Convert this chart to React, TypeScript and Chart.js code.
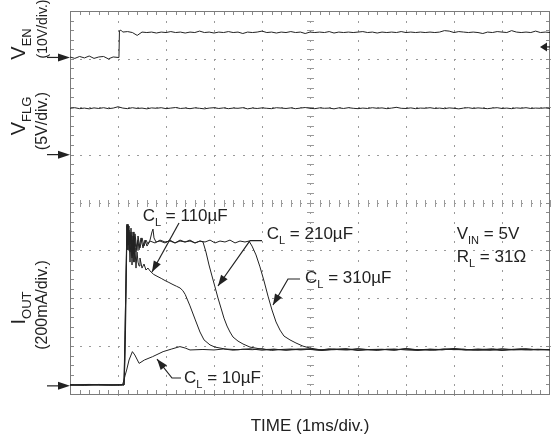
import React, { useEffect, useRef } from "react";
import { Chart, registerables } from "chart.js";

Chart.register(...registerables);

// ---- Channel set-up (ground marker in divisions, units per division) ----
const EN_GND_DIV = 7.03;
const EN_V_PER_DIV = 10;
const EN_TRIGGER_V = 2.2;
const FLG_GND_DIV = 5.0;
const FLG_V_PER_DIV = 5;
const IOUT_GND_DIV = 0.17;
const IOUT_MA_PER_DIV = 200;

// ---- V_EN (V) ----
const venLowStart = 0;
const venLowStep = 0.1;
const venLowVolts = [0.1, -0.2, 0.2, -0.1, 0.3, -0.2, 0.1, 0.2, -0.3, 0.1, 0.0];
const venEdgeTime = [1.02, 1.03, 1.06, 1.1];
const venEdgeVolts = [0.1, 5.6, 5.7, 5.3];
const venHighStart = 1.2;
const venHighStep = 0.1;
const venHighVolts = [
  5.4, 5.2, 4.6, 5.3, 5.2, 5.3, 5.1, 5.3, 5.2, 5.4,
  5.2, 5.3, 5.1, 5.3, 5.2, 5.5, 5.2, 5.3, 5.1, 5.3,
  5.2, 5.4, 5.2, 5.3, 5.0, 5.3, 5.2, 5.3, 5.5, 5.2,
  5.3, 5.1, 5.3, 5.2, 5.4, 5.2, 5.3, 5.0, 5.3, 5.2,
  5.3, 5.2, 5.4, 5.1, 5.3, 5.2, 5.3, 5.2, 5.3, 5.4,
  5.2, 5.3, 5.1, 5.3, 5.2, 5.3, 5.2, 5.4, 5.2, 5.3,
  5.2, 5.3, 5.2, 5.3, 5.2, 5.3, 5.6, 5.5, 5.2, 5.4,
  5.3, 5.2, 5.3, 5.2, 5.0, 5.3, 5.2, 5.4, 5.3, 5.2,
  5.6, 5.3, 5.2, 5.3, 5.2, 5.5, 5.2, 5.3, 5.2,
];

// ---- V_FLG (V), sampled every 0.1 ms ----
const vflgStart = 0;
const vflgStep = 0.1;
const vflgVolts = [
  4.84, 4.9, 4.8, 4.86, 4.78, 4.88, 4.82, 4.9, 4.8, 4.86,
  5.0, 4.86, 4.8, 4.9, 4.82, 4.86, 4.78, 4.88, 4.84, 4.9,
  4.8, 4.86, 4.92, 4.82, 4.86, 4.8, 4.88, 4.84, 4.78, 4.86,
  4.9, 4.82, 4.88, 4.8, 4.86, 4.84, 4.9, 4.78, 4.86, 4.82,
  4.88, 4.84, 4.8, 4.9, 4.86, 4.82, 4.88, 4.8, 4.86, 4.92,
  4.84, 4.8, 4.88, 4.84, 4.86, 4.78, 4.88, 4.82, 4.9, 4.84,
  4.8, 4.86, 4.82, 4.9, 4.84, 4.88, 4.8, 4.86, 4.94, 4.84,
  4.82, 4.88, 4.8, 4.86, 4.84, 4.9, 4.82, 4.86, 4.8, 4.88,
  4.84, 4.78, 4.86, 4.9, 4.82, 4.88, 4.84, 4.8, 4.86, 4.9,
  4.82, 4.86, 4.8, 4.88, 4.84, 4.9, 4.82, 4.86, 4.84, 4.88, 4.82,
];

// ---- I_OUT (mA) for each load capacitance ----
const cl10Time = [0, 0.3, 0.6, 0.9, 1.08, 1.1, 1.125, 1.15, 1.18, 1.23, 1.3, 1.35, 1.44, 1.55, 1.72, 1.94, 2.12, 2.29, 2.4, 2.5, 2.77];
const cl10mA = [4, 2, 6, 3, 4, 8, 25, 45, 66, 108, 143, 129, 94, 108, 122, 143, 154, 164, 158, 150, 152];
const cl10TailStart = 3.0;
const cl10TailStep = 0.2;
const cl10TailmA = [150, 154, 149, 153, 151, 155, 148, 152, 154, 150, 153, 149, 155, 151, 150, 154, 152, 148, 153, 151, 155, 150, 152, 149, 154, 151, 153, 150, 152, 155, 149, 151, 154, 150, 152, 151];

const cl110Time = [0, 0.4, 0.8, 1.08, 1.125, 1.146, 1.167, 1.1875, 1.208, 1.229, 1.25, 1.271, 1.292, 1.3125, 1.333, 1.354, 1.375, 1.396, 1.417, 1.4375, 1.458, 1.5, 1.542, 1.583, 1.625, 1.667, 1.74, 1.8125, 1.9, 1.979, 2.06, 2.146, 2.22, 2.292, 2.35, 2.4, 2.5, 2.604, 2.708, 2.792, 2.917, 3.021, 3.229];
const cl110mA = [4, 6, 3, 4, 4, 108, 359, 672, 588, 643, 517, 630, 505, 609, 517, 576, 492, 559, 517, 501, 534, 492, 509, 484, 492, 480, 466, 458, 449, 440, 432, 423, 416, 409, 398, 382, 334, 279, 225, 192, 171, 162, 154];
const cl110TailStart = 3.5;
const cl110TailStep = 0.25;
const cl110TailmA = [151, 155, 149, 153, 150, 154, 152, 148, 153, 151, 155, 150, 152, 149, 154, 151, 153, 150, 156, 152, 149, 151, 154, 150, 153, 152, 150];

const cl210Time = [0, 0.5, 1.0, 1.125, 1.146, 1.167, 1.1875, 1.208, 1.229, 1.25, 1.271, 1.292, 1.3125, 1.333, 1.354, 1.375, 1.417, 1.4375, 1.479, 1.521, 1.5625, 1.604, 1.667, 1.771, 1.875, 1.979, 2.083, 2.1875, 2.292, 2.396, 2.5, 2.604, 2.708, 2.771, 2.833, 2.896, 2.958, 3.021, 3.083, 3.146, 3.208, 3.271, 3.333, 3.396, 3.5, 3.604, 3.75, 3.917, 4.0625];
const cl210mA = [3, 5, 4, 4, 233, 442, 668, 568, 651, 593, 643, 534, 626, 551, 618, 559, 609, 568, 618, 576, 609, 584, 605, 597, 609, 601, 605, 597, 609, 601, 605, 597, 605, 601, 559, 505, 459, 413, 367, 325, 283, 250, 225, 204, 187, 175, 162, 156, 152];
const cl210TailStart = 4.25;
const cl210TailStep = 0.25;
const cl210TailmA = [153, 149, 152, 155, 150, 151, 154, 148, 152, 153, 150, 155, 151, 149, 153, 152, 150, 154, 151, 148, 153, 155, 150, 152];

const cl310Time = [0, 0.6, 1.1, 1.125, 1.146, 1.167, 1.1875, 1.208, 1.229, 1.25, 1.271, 1.292, 1.3125, 1.333, 1.354, 1.396, 1.417, 1.458, 1.5, 1.542, 1.583, 1.625, 1.667, 1.708, 1.729, 1.75, 1.792, 1.875, 1.979, 2.083, 2.1875, 2.292, 2.396, 2.5, 2.604, 2.708, 2.813, 2.917, 3.021, 3.125, 3.229, 3.333, 3.438, 3.542, 3.646, 3.729, 3.792, 3.875, 3.958, 4.042, 4.125, 4.208, 4.292, 4.375, 4.458, 4.583, 4.708, 4.854, 5.0, 5.104];
const cl310mA = [4, 3, 5, 4, 192, 484, 676, 618, 668, 559, 659, 543, 643, 568, 635, 568, 626, 576, 618, 584, 609, 593, 609, 643, 655, 618, 601, 605, 597, 609, 597, 605, 601, 609, 597, 605, 601, 609, 597, 605, 601, 609, 597, 605, 601, 605, 584, 547, 497, 438, 375, 317, 267, 233, 208, 192, 179, 166, 158, 154];
const cl310TailStart = 5.25;
const cl310TailStep = 0.25;
const cl310TailmA = [150, 153, 155, 149, 152, 151, 154, 150, 148, 153, 152, 155, 150, 151, 149, 154, 152, 150, 153, 151];

// ---- Text ----
const xAxisTitle = "TIME (1ms/div.)";
const channelTitles = [
  { name: "V", sub: "EN", scale: "(10V/div.)", gnd: EN_GND_DIV },
  { name: "V", sub: "FLG", scale: "(5V/div.)", gnd: FLG_GND_DIV },
  { name: "I", sub: "OUT", scale: "(200mA/div.)", gnd: IOUT_GND_DIV },
];
// vertical centre (px) of the two rotated lines of each channel title, and size of 2nd line
const channelTitleLayout = [
  { c1: 44, c2: 29, size2: 14 },
  { c1: 116, c2: 121, size2: 16 },
  { c1: 308, c2: 305, size2: 16 },
];

type Run = { text: string; sub?: boolean };
const annotationTexts: { runs: Run[]; t: number; d: number }[] = [
  { runs: [{ text: "C" }, { text: "L", sub: true }, { text: " = 110µF" }], t: 1.514, d: 3.624 },
  { runs: [{ text: "C" }, { text: "L", sub: true }, { text: " = 210µF" }], t: 4.098, d: 3.238 },
  { runs: [{ text: "C" }, { text: "L", sub: true }, { text: " = 310µF" }], t: 4.896, d: 2.319 },
  { runs: [{ text: "C" }, { text: "L", sub: true }, { text: " = 10µF" }], t: 2.375, d: 0.236 },
  { runs: [{ text: "V" }, { text: "IN", sub: true }, { text: " = 5V" }], t: 8.056, d: 3.231 },
  { runs: [{ text: "R" }, { text: "L", sub: true }, { text: " = 31Ω" }], t: 8.056, d: 2.763 },
];
// leader lines (time, div); last point is the arrow tip
const leaderLines: [number, number][][] = [
  [[2.271, 3.572], [1.708, 2.548]],
  [[4.0, 3.202], [3.75, 3.202], [3.083, 2.256]],
  [[4.792, 2.402], [4.542, 2.402], [4.229, 1.859]],
  [[2.3125, 0.334], [2.125, 0.334], [1.8125, 0.731]],
];

const FONT = '"Liberation Sans", Arial, Helvetica, sans-serif';
const font = (s: number) => `${s}px ${FONT}`;
const INK = "#222222";
const GRID = "#9a9a9a";

function uniform(start: number, step: number, vals: number[]) {
  return vals.map((v, i) => ({ t: start + i * step, v }));
}

function toPoints(samples: { t: number; v: number }[], gnd: number, perDiv: number) {
  return samples.map((s) => ({ x: s.t, y: gnd + s.v / perDiv }));
}

function pairs(ts: number[], vs: number[]) {
  return ts.map((t, i) => ({ t, v: vs[i] }));
}

function drawRuns(ctx: CanvasRenderingContext2D, runs: Run[], x: number, y: number, size: number, center = false) {
  const subSize = size * 0.65;
  const widths = runs.map((r) => {
    ctx.font = font(r.sub ? subSize : size);
    return ctx.measureText(r.text).width;
  });
  const total = widths.reduce((a, b) => a + b, 0);
  let cx = center ? x - total / 2 : x;
  runs.forEach((r, i) => {
    ctx.font = font(r.sub ? subSize : size);
    ctx.fillText(r.text, cx, r.sub ? y + size * 0.3 : y);
    cx += widths[i];
  });
}

function arrowHead(ctx: CanvasRenderingContext2D, fx: number, fy: number, tx: number, ty: number, len: number, half: number) {
  const a = Math.atan2(ty - fy, tx - fx);
  ctx.beginPath();
  ctx.moveTo(tx, ty);
  ctx.lineTo(tx - len * Math.cos(a) + half * Math.sin(a), ty - len * Math.sin(a) - half * Math.cos(a));
  ctx.lineTo(tx - len * Math.cos(a) - half * Math.sin(a), ty - len * Math.sin(a) + half * Math.cos(a));
  ctx.closePath();
  ctx.fill();
}

const scopeGrid = {
  id: "scopeGrid",
  beforeDatasetsDraw(chart: any) {
    const { ctx, chartArea: a, scales } = chart;
    const xs = scales.x;
    const ys = scales.y;
    ctx.save();
    ctx.fillStyle = GRID;
    // dotted major grid lines, a dot per minor division
    for (let i = 1; i < 10; i++) {
      const px = Math.round(xs.getPixelForValue(i));
      for (let k = 0; k <= 40; k++) {
        const py = Math.round(ys.getPixelForValue(k * 0.2));
        ctx.fillRect(px, py, 1, 2);
      }
    }
    for (let j = 1; j < 8; j++) {
      const py = Math.round(ys.getPixelForValue(j));
      for (let k = 0; k <= 50; k++) {
        const px = Math.round(xs.getPixelForValue(k * 0.2));
        ctx.fillRect(px, py, 2, 1);
      }
    }
    // centre cross ticks
    const cxp = Math.round(xs.getPixelForValue(5));
    const cyp = Math.round(ys.getPixelForValue(4));
    for (let k = 0; k <= 50; k++) {
      const px = Math.round(xs.getPixelForValue(k * 0.2));
      ctx.fillRect(px, cyp - 3, 1, 7);
    }
    for (let k = 0; k <= 40; k++) {
      const py = Math.round(ys.getPixelForValue(k * 0.2));
      ctx.fillRect(cxp - 3, py, 7, 1);
    }
    // frame edge ticks
    ctx.fillStyle = "#8a8a8a";
    for (let k = 1; k < 50; k++) {
      const px = Math.round(xs.getPixelForValue(k * 0.2));
      ctx.fillRect(px, Math.round(a.top), 1, 4);
      ctx.fillRect(px, Math.round(a.bottom) - 4, 1, 4);
    }
    for (let k = 1; k < 40; k++) {
      const py = Math.round(ys.getPixelForValue(k * 0.2));
      ctx.fillRect(Math.round(a.left), py, 4, 1);
      ctx.fillRect(Math.round(a.right) - 4, py, 4, 1);
    }
    ctx.strokeStyle = "#7a7a7a";
    ctx.lineWidth = 1;
    ctx.strokeRect(Math.round(a.left) + 0.5, Math.round(a.top) + 0.5, Math.round(a.right - a.left) - 1, Math.round(a.bottom - a.top));
    ctx.restore();
  },
  afterDatasetsDraw(chart: any) {
    const { ctx, scales } = chart;
    const xs = scales.x;
    const ys = scales.y;
    ctx.save();
    ctx.fillStyle = INK;
    ctx.strokeStyle = INK;
    ctx.lineWidth = 1.2;
    ctx.textBaseline = "alphabetic";
    annotationTexts.forEach((lab) => {
      drawRuns(ctx, lab.runs, xs.getPixelForValue(lab.t), ys.getPixelForValue(lab.d), 17);
    });
    leaderLines.forEach((pts) => {
      const p = pts.map(([t, d]) => [xs.getPixelForValue(t), ys.getPixelForValue(d)]);
      ctx.beginPath();
      p.forEach(([x, y], i) => (i ? ctx.lineTo(x, y) : ctx.moveTo(x, y)));
      ctx.stroke();
      const n = p.length;
      arrowHead(ctx, p[n - 2][0], p[n - 2][1], p[n - 1][0], p[n - 1][1], 11, 4);
    });
    ctx.restore();
  },
  afterDraw(chart: any) {
    const { ctx, chartArea: a, scales } = chart;
    const ys = scales.y;
    ctx.save();
    ctx.fillStyle = INK;
    ctx.strokeStyle = INK;
    ctx.lineWidth = 1.2;
    // ground markers on the left
    channelTitles.forEach((c) => {
      const py = ys.getPixelForValue(c.gnd);
      ctx.beginPath();
      ctx.moveTo(a.left - 23, py);
      ctx.lineTo(a.left - 8, py);
      ctx.stroke();
      arrowHead(ctx, a.left - 20, py, a.left, py, 12, 4);
    });
    // trigger marker on the right
    const ty = ys.getPixelForValue(EN_GND_DIV + EN_TRIGGER_V / EN_V_PER_DIV);
    ctx.beginPath();
    ctx.moveTo(a.right, ty);
    ctx.lineTo(a.right - 5, ty);
    ctx.stroke();
    arrowHead(ctx, a.right, ty, a.right - 10, ty, 7, 4.5);
    // channel titles (rotated)
    channelTitles.forEach((c, i) => {
      const lay = channelTitleLayout[i];
      ctx.save();
      ctx.translate(25, lay.c1);
      ctx.rotate(-Math.PI / 2);
      drawRuns(ctx, [{ text: c.name }, { text: c.sub, sub: true }], 0, 0, 20, true);
      ctx.restore();
      ctx.save();
      ctx.translate(47, lay.c2);
      ctx.rotate(-Math.PI / 2);
      ctx.font = font(lay.size2);
      ctx.textAlign = "center";
      ctx.fillText(c.scale, 0, 0);
      ctx.restore();
    });
    // x title
    ctx.font = font(17);
    ctx.textAlign = "center";
    ctx.fillText(xAxisTitle, (a.left + a.right) / 2, 431);
    ctx.restore();
  },
};

export default function App() {
  const ref = useRef<HTMLCanvasElement | null>(null);
  useEffect(() => {
    if (!ref.current) return;
    const trace = (data: { x: number; y: number }[]) => ({
      data,
      borderColor: INK,
      borderWidth: 1,
      pointRadius: 0,
      tension: 0,
      fill: false,
    });
    const ven = toPoints(
      [...uniform(venLowStart, venLowStep, venLowVolts), ...pairs(venEdgeTime, venEdgeVolts), ...uniform(venHighStart, venHighStep, venHighVolts)],
      EN_GND_DIV,
      EN_V_PER_DIV
    );
    const vflg = toPoints(uniform(vflgStart, vflgStep, vflgVolts), FLG_GND_DIV, FLG_V_PER_DIV);
    const i10 = toPoints([...pairs(cl10Time, cl10mA), ...uniform(cl10TailStart, cl10TailStep, cl10TailmA)], IOUT_GND_DIV, IOUT_MA_PER_DIV);
    const i110 = toPoints([...pairs(cl110Time, cl110mA), ...uniform(cl110TailStart, cl110TailStep, cl110TailmA)], IOUT_GND_DIV, IOUT_MA_PER_DIV);
    const i210 = toPoints([...pairs(cl210Time, cl210mA), ...uniform(cl210TailStart, cl210TailStep, cl210TailmA)], IOUT_GND_DIV, IOUT_MA_PER_DIV);
    const i310 = toPoints([...pairs(cl310Time, cl310mA), ...uniform(cl310TailStart, cl310TailStep, cl310TailmA)], IOUT_GND_DIV, IOUT_MA_PER_DIV);

    const chart = new Chart(ref.current, {
      type: "line",
      data: {
        datasets: [trace(ven), trace(vflg), trace(i10), trace(i110), trace(i210), trace(i310)] as any,
      },
      options: {
        animation: false,
        responsive: false,
        maintainAspectRatio: false,
        devicePixelRatio: 1,
        layout: { padding: { left: 70, right: 1, top: 11, bottom: 40 } },
        scales: {
          x: { type: "linear", min: 0, max: 10, display: false },
          y: { type: "linear", min: 0, max: 8, display: false },
        },
        plugins: { legend: { display: false }, tooltip: { enabled: false } },
        elements: { point: { radius: 0 } },
      },
      plugins: [scopeGrid],
    });
    return () => chart.destroy();
  }, []);

  return (
    <div style={{ position: "fixed", left: 0, top: 0, width: 551, height: 434, background: "#fff" }}>
      <canvas ref={ref} width={551} height={434} style={{ display: "block", width: 551, height: 434 }} />
    </div>
  );
}
